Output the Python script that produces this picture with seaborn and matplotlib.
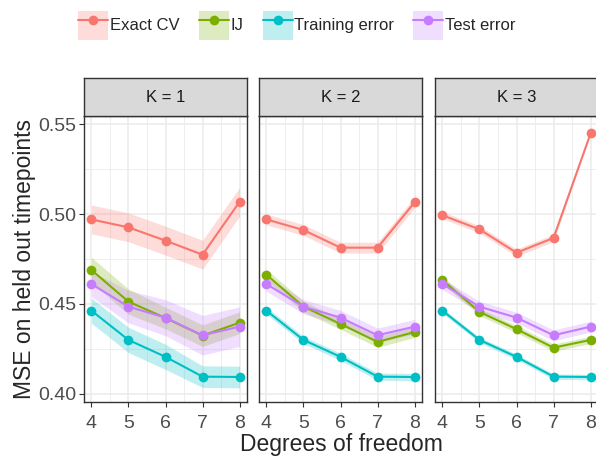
import numpy as np
import pandas as pd
import matplotlib
matplotlib.use("Agg")
import matplotlib.pyplot as plt
import seaborn as sns
from matplotlib.patches import Patch
from matplotlib.lines import Line2D
from matplotlib.legend_handler import HandlerTuple

# data
dof = [4, 5, 6, 7, 8]
panels = ["K = 1", "K = 2", "K = 3"]
methods = ["Exact CV", "IJ", "Training error", "Test error"]
colors = ["#F8766D", "#7CAE00", "#00BFC4", "#C77CFF"]

exact_cv = [[0.497, 0.4926, 0.4852, 0.4774, 0.5068],
            [0.497, 0.4911, 0.4813, 0.4813, 0.5065],
            [0.4993, 0.4915, 0.4785, 0.4867, 0.5448]]
ij = [[0.4689, 0.4513, 0.4422, 0.4324, 0.4396],
      [0.4663, 0.4485, 0.4389, 0.4289, 0.4344],
      [0.4633, 0.4456, 0.436, 0.4257, 0.430]]
train_err = [[0.4463, 0.430, 0.4206, 0.4096, 0.4094],
             [0.4463, 0.430, 0.4206, 0.4096, 0.4094],
             [0.4463, 0.430, 0.4206, 0.4096, 0.4094]]
test_err = [[0.4611, 0.4485, 0.4424, 0.4326, 0.4374],
            [0.4611, 0.4485, 0.4424, 0.4326, 0.4374],
            [0.4611, 0.4485, 0.4424, 0.4326, 0.4374]]

# half widths of the shaded bands
exact_cv_se = [[0.008, 0.008, 0.008, 0.008, 0.008],
               [0.003, 0.003, 0.003, 0.003, 0.003],
               [0.002, 0.002, 0.002, 0.002, 0.0]]
ij_se = [[0.007, 0.007, 0.006, 0.006, 0.006],
         [0.003, 0.003, 0.003, 0.003, 0.003],
         [0.002, 0.002, 0.002, 0.002, 0.002]]
train_se = [[0.007, 0.007, 0.007, 0.006, 0.006],
            [0.002, 0.002, 0.002, 0.002, 0.002],
            [0.0015, 0.0015, 0.0015, 0.0015, 0.0015]]
test_se = [[0.007, 0.009, 0.010, 0.011, 0.011],
           [0.004, 0.004, 0.004, 0.004, 0.004],
           [0.003, 0.003, 0.003, 0.003, 0.003]]

rows = []
for p, panel in enumerate(panels):
    for name, vals, ses in zip(methods,
                               [exact_cv, ij, train_err, test_err],
                               [exact_cv_se, ij_se, train_se, test_se]):
        for d, v, s in zip(dof, vals[p], ses[p]):
            rows.append(dict(panel=panel, method=name, dof=d, mse=v, lo=v - s, hi=v + s))
df = pd.DataFrame(rows)

sns.set_style("white")
plt.rcParams['font.family'] = ['Liberation Sans', 'DejaVu Sans']

W, H = 596, 458
fig = plt.figure(figsize=(W / 100, H / 100), dpi=100)
palette = dict(zip(methods, colors))

lefts = [84, 259, 435]
pw = 163
bottom, top, strip_top = 402, 116, 78
grid_c = "#EBEBEB"
border_c = "#333333"

for i, panel in enumerate(panels):
    ax = fig.add_axes([lefts[i] / W, 1 - bottom / H, pw / W, (bottom - top) / H])
    sub = df[df.panel == panel]
    for name in methods:
        s = sub[sub.method == name]
        ax.fill_between(s.dof, s.lo, s.hi, color=palette[name], alpha=0.25, lw=0)
    sns.lineplot(data=sub, x="dof", y="mse", hue="method", palette=palette,
                 hue_order=methods, marker="o", markersize=7, markeredgewidth=0,
                 linewidth=1.5, legend=False, ax=ax)
    ax.set_xlim(3.8, 8.2)
    ax.set_ylim(0.3955, 0.5545)
    ax.set_xticks(dof)
    ax.set_xticks([4.5, 5.5, 6.5, 7.5], minor=True)
    ax.set_yticks([0.40, 0.45, 0.50, 0.55])
    ax.set_yticks([0.425, 0.475, 0.525], minor=True)
    ax.grid(True, which="major", color=grid_c, lw=1.1, zorder=0)
    ax.grid(True, which="minor", color=grid_c, lw=0.6, zorder=0)
    ax.set_axisbelow(True)
    for sp in ax.spines.values():
        sp.set_color(border_c)
        sp.set_linewidth(1.0)
    ax.tick_params(axis="both", which="major", length=3.5, width=0.8, color=border_c,
                   labelsize=14, labelcolor="#4D4D4D", pad=2)
    ax.tick_params(axis="x", which="major", pad=6)
    ax.tick_params(axis="both", which="minor", length=0)
    ax.xaxis.set_ticks_position("bottom")
    ax.yaxis.set_ticks_position("left")
    ax.set_xlabel("")
    ax.set_ylabel("")
    if i == 0:
        ax.set_yticklabels(["0.40", "0.45", "0.50", "0.55"])
    else:
        ax.set_yticklabels([])
        ax.tick_params(axis="y", which="major", length=0)

    # facet strip
    sax = fig.add_axes([lefts[i] / W, 1 - top / H, pw / W, (top - strip_top) / H])
    sax.set_facecolor("#D9D9D9")
    sax.set_xticks([])
    sax.set_yticks([])
    for sp in sax.spines.values():
        sp.set_color(border_c)
        sp.set_linewidth(1.0)
    sax.text(0.5, 0.5, panel, ha="center", va="center", fontsize=12,
             color="#1A1A1A", transform=sax.transAxes)

fig.text(25 / W, 1 - 259 / H, "MSE on held out timepoints", rotation=90,
         ha="center", va="center", fontsize=16.5)
fig.text(341 / W, 1 - 445 / H, "Degrees of freedom", ha="center", va="center",
         fontsize=16.5)

handles = []
for c in colors:
    bg = Patch(facecolor=c, alpha=0.25, edgecolor="none")
    ln = Line2D([], [], color=c, marker="o", markersize=7, markeredgewidth=0, lw=1.5)
    handles.append((bg, ln))
fig.legend(handles, methods, handler_map={tuple: HandlerTuple(ndivide=1)},
           loc="center", bbox_to_anchor=(297 / W, 1 - 25 / H), ncol=4, frameon=False,
           fontsize=12, handlelength=1.8, handleheight=2.3, handletextpad=0.1,
           columnspacing=1.15)

fig.savefig("out.png", dpi=100)
